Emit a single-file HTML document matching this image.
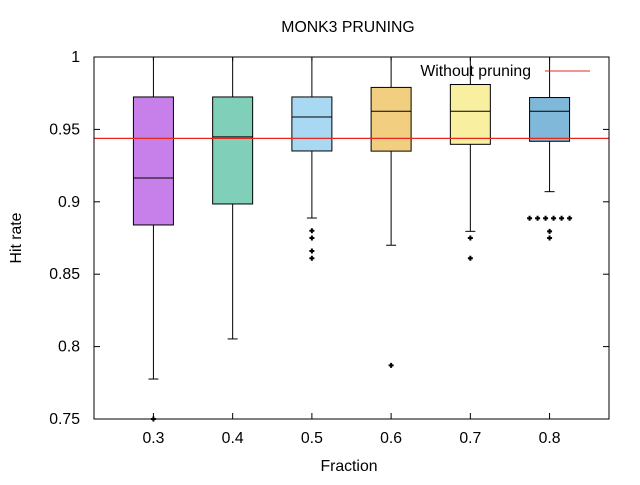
<!DOCTYPE html>
<html><head><meta charset="utf-8"><style>
body{margin:0;background:#fff}
svg text{font-family:"Liberation Sans",sans-serif;font-size:15.8px;fill:#000}
</style></head><body>
<svg id="chart" width="640" height="480" viewBox="0 0 640 480" xmlns="http://www.w3.org/2000/svg">
<rect width="640" height="480" fill="#fff"/>
<text x="348" y="32" text-anchor="middle">MONK3 PRUNING</text>
<text x="349" y="471" text-anchor="middle">Fraction</text>
<text transform="translate(21,238) rotate(-90)" text-anchor="middle">Hit rate</text>
<g id="marks"></g>
<rect x="94" y="57" width="515" height="362" fill="none" stroke="#000" stroke-width="1"/>
<text x="531" y="76" text-anchor="end">Without pruning</text>
<line x1="545" y1="71" x2="590" y2="71" stroke="#e8281e" stroke-width="1"/>
</svg>
<script>
const categories = ["0.3","0.4","0.5","0.6","0.7","0.8"];
const xValues = [0.3,0.4,0.5,0.6,0.7,0.8];
const whiskerHigh = [1.0,1.0,1.0,1.0,1.0,1.0];
const q3 = [0.9724,0.9724,0.9724,0.979,0.981,0.972];
const medians = [0.9164,0.9448,0.9586,0.9625,0.9625,0.9625];
const q1 = [0.884,0.8985,0.9351,0.935,0.9397,0.9418];
const whiskerLow = [0.7776,0.8053,0.8888,0.870,0.8796,0.907];
const outliers = [[0.75],[],[0.880,0.875,0.866,0.861],[0.787],[0.875,0.861],[0.8886,0.8886,0.8886,0.8886,0.8886,0.8886,0.8796,0.875]];
const colors = ["#c77fe9","#80cfb9","#a9d9f2","#f2ce80","#f8f0a0","#7fb8d9"];
const yTicks = [0.75,0.8,0.85,0.9,0.95,1];
const yTickLabels = ["0.75","0.8","0.85","0.9","0.95","1"];
const baseline = 0.9438;

const X0=94,X1=609,Y0=57,Y1=419, xMin=0.225,xMax=0.875,yMin=0.75,yMax=1.0;
const xs=v=>X0+(v-xMin)/(xMax-xMin)*(X1-X0);
const ys=v=>Y1-(v-yMin)/(yMax-yMin)*(Y1-Y0);
const NS="http://www.w3.org/2000/svg";
const g=document.getElementById('marks');
function mk(tag,attrs){const e=document.createElementNS(NS,tag);for(const k in attrs)e.setAttribute(k,attrs[k]);g.appendChild(e);return e;}

yTicks.forEach((t,i)=>{
  const y=ys(t);
  let e=mk('line',{x1:X0,x2:X0+6,y1:y,y2:y,stroke:'#000'});
  
  
  e=mk('line',{x1:X1-6,x2:X1,y1:y,y2:y,stroke:'#000'});
  
  
  e=mk('text',{x:80,y:y+5,'text-anchor':'end'});e.textContent=yTickLabels[i];
  
  
});
categories.forEach((c,i)=>{
  const x=xs(xValues[i]);
  let e=mk('line',{x1:x,x2:x,y1:Y1,y2:Y1-6,stroke:'#000'});
  
  
  e=mk('line',{x1:x,x2:x,y1:Y0,y2:Y0+4,stroke:'#000'});
  
  
  e=mk('text',{x:x,y:443,'text-anchor':'middle'});e.textContent=c;
  
  
  const w=20;
  e=mk('line',{x1:x,x2:x,y1:ys(whiskerHigh[i]),y2:ys(q3[i]),stroke:'#000'});
  
  
  e=mk('line',{x1:x,x2:x,y1:ys(q1[i]),y2:ys(whiskerLow[i]),stroke:'#000'});
  
  
  e=mk('line',{x1:x-5,x2:x+5,y1:ys(whiskerLow[i]),y2:ys(whiskerLow[i]),stroke:'#000'});
  
  
  e=mk('line',{x1:x-5,x2:x+5,y1:ys(whiskerHigh[i]),y2:ys(whiskerHigh[i]),stroke:'#000'});
  
  
  e=mk('rect',{x:x-w,y:ys(q3[i]),width:2*w,height:ys(q1[i])-ys(q3[i]),fill:colors[i],stroke:'#000'});
  
  
  e=mk('line',{x1:x-w,x2:x+w,y1:ys(medians[i]),y2:ys(medians[i]),stroke:'#000'});
  
  
  const counts={};outliers[i].forEach(v=>counts[v]=(counts[v]||0)+1);
  const seen={};
  outliers[i].forEach(v=>{
    const n=counts[v];const k=seen[v]=(seen[v]||0);seen[v]++;
    const ox=x+(k-(n-1)/2)*8;
    const y=ys(v);
    const o=mk('path',{d:`M${ox-2.5},${y}H${ox+2.5}M${ox},${y-2.5}V${y+2.5}`,stroke:'#000','stroke-width':2});
    
    
  });
});
const bl=mk('line',{x1:X0,x2:X1,y1:ys(baseline),y2:ys(baseline),stroke:'#e8281e','stroke-width':1.2});


</script>
</body></html>
